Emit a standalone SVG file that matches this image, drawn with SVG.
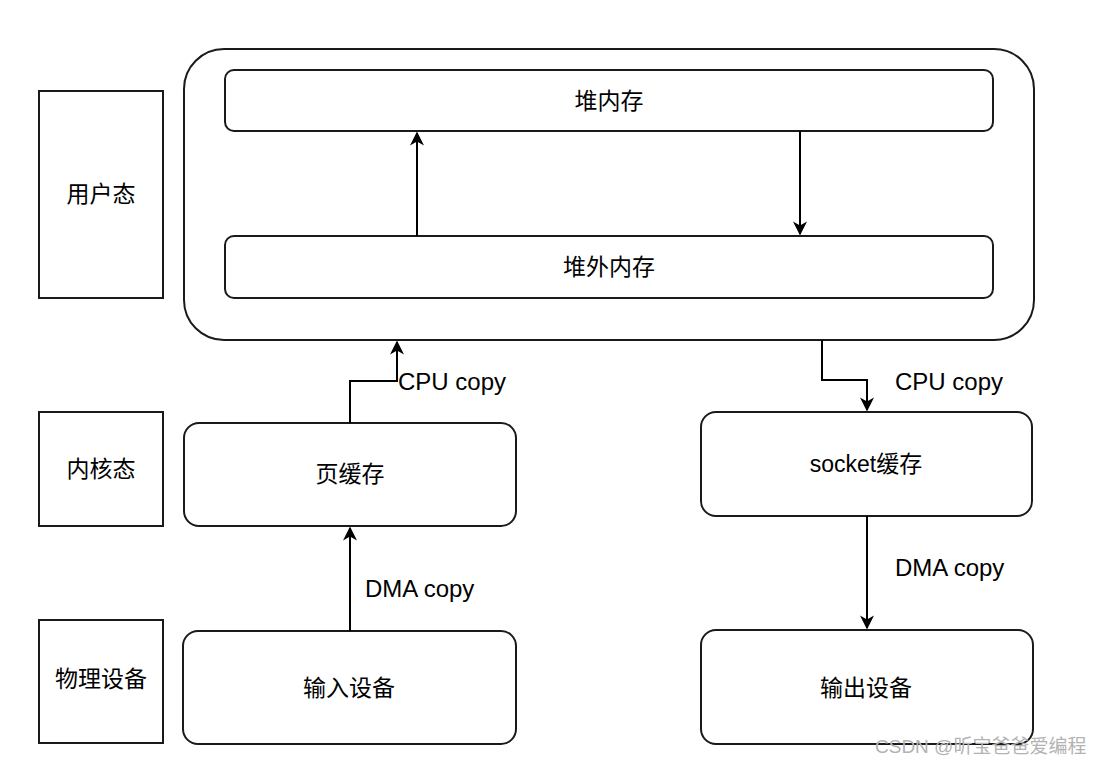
<svg xmlns="http://www.w3.org/2000/svg" width="1102" height="765" viewBox="0 0 1102 765">
<style>
.box{fill:#fff;stroke:#1a1a1a;stroke-width:2}
.t{font-family:"Liberation Sans","Noto Sans CJK SC",sans-serif;font-size:23px;fill:#000;text-anchor:middle;dominant-baseline:central}
.l{font-family:"Liberation Sans","Noto Sans CJK SC",sans-serif;font-size:24px;fill:#000}
.c{fill:none;stroke:#000;stroke-width:2}
.wm{font-family:"Liberation Sans","Noto Sans CJK SC",sans-serif;font-size:19px;fill:#b3b3b3}
</style>
<defs>
<marker id="ah" viewBox="0 0 10 10" refX="9" refY="5" markerWidth="15" markerHeight="14" markerUnits="userSpaceOnUse" orient="auto">
<path d="M0,0 L10,5 L0,10 L3,5 Z" fill="#000"/>
</marker>
</defs>
<rect width="1102" height="765" fill="#fff"/>
<g id="user-mode"><rect class="box" x="39" y="91" width="124" height="207"/><text class="t" x="101" y="194">用户态</text></g>
<g id="kernel-mode"><rect class="box" x="39" y="412" width="124" height="114"/><text class="t" x="101" y="469">内核态</text></g>
<g id="physical"><rect class="box" x="39" y="620" width="124" height="123"/><text class="t" x="101" y="679">物理设备</text></g>
<g id="user-space"><rect class="box" x="184" y="49" width="850" height="291" rx="40" ry="40"/></g>
<g id="heap"><rect class="box" x="225" y="70" width="768" height="61" rx="9" ry="9"/><text class="t" x="609" y="101">堆内存</text></g>
<g id="offheap"><rect class="box" x="225" y="236" width="768" height="62" rx="9" ry="9"/><text class="t" x="609" y="267">堆外内存</text></g>
<g id="page-cache"><rect class="box" x="184" y="423" width="332" height="103" rx="15" ry="15"/><text class="t" x="350" y="474">页缓存</text></g>
<g id="socket-cache"><rect class="box" x="701" y="412" width="331" height="104" rx="15" ry="15"/><text class="t" x="866" y="464">socket缓存</text></g>
<g id="input-dev"><rect class="box" x="183" y="631" width="333" height="113" rx="15" ry="15"/><text class="t" x="349" y="688">输入设备</text></g>
<g id="output-dev"><rect class="box" x="701" y="630" width="332" height="114" rx="15" ry="15"/><text class="t" x="866" y="688">输出设备</text></g>
<g id="connectors">
<path class="c" d="M417,236 L417,133" marker-end="url(#ah)"/>
<path class="c" d="M800,131 L800,234" marker-end="url(#ah)"/>
<path class="c" d="M350,423 L350,381 L397,381 L397,342" marker-end="url(#ah)"/>
<path class="c" d="M822,340 L822,380 L867,380 L867,410" marker-end="url(#ah)"/>
<path class="c" d="M350,631 L350,528" marker-end="url(#ah)"/>
<path class="c" d="M867,516 L867,628" marker-end="url(#ah)"/>
<text class="l" x="398" y="390">CPU copy</text>
<text class="l" x="895" y="390">CPU copy</text>
<text class="l" x="365" y="597">DMA copy</text>
<text class="l" x="895" y="576">DMA copy</text>
</g>
<text class="wm" x="875" y="753">CSDN @昕宝爸爸爱编程</text>
</svg>
